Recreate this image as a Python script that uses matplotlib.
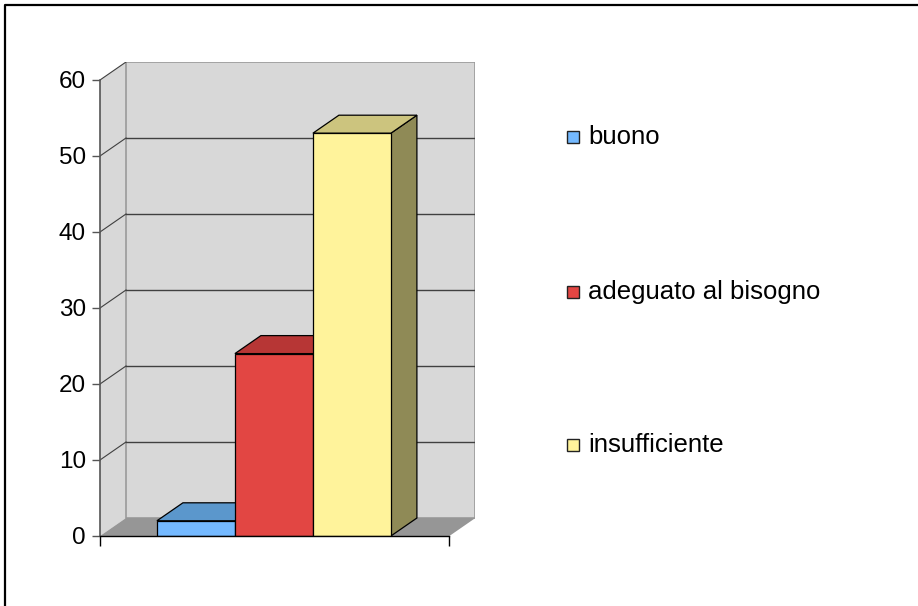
import matplotlib.pyplot as plt
from matplotlib.patches import Polygon, Rectangle
from matplotlib.lines import Line2D

plt.rcParams['font.family'] = ['Liberation Sans', 'DejaVu Sans']

categories = ['buono', 'adeguato al bisogno', 'insufficiente']
values = [2, 24, 53]
front_colors = ['#74b9ff', '#e24643', '#fff39b']
top_colors = ['#5b97cc', '#b73635', '#ccc47e']
side_colors = ['#4a78a3', '#8f2b2a', '#8f8a56']
yticks = [0, 10, 20, 30, 40, 50, 60]

W, H = 918, 606
fig = plt.figure(figsize=(W / 100, H / 100), dpi=100)
fig.patch.set_facecolor('white')

# axes area in pixels: left 100, right 475, top 62, bottom 536
ax = fig.add_axes([100 / W, (H - 536) / H, 375.4 / W, 474 / H])
ax.set_facecolor('none')

dx = 26 / 78          # depth in category units
dy = 18 / 7.6         # depth in value units
xl, xr = -1.23, 3.25
ymax = 60

ax.set_xlim(xl, xr + dx)
ax.set_ylim(0, ymax + dy)

# walls and floor
wall = '#d8d8d8'
ax.add_patch(Polygon([(xl, 0), (xl + dx, dy), (xl + dx, ymax + dy), (xl, ymax)],
                     closed=True, facecolor=wall, edgecolor='none', zorder=0))
ax.add_patch(Rectangle((xl + dx, dy), xr - xl, ymax, facecolor=wall,
                       edgecolor='#9a9a9a', lw=1.2, zorder=0))
ax.add_patch(Polygon([(xl, 0), (xr, 0), (xr + dx, dy), (xl + dx, dy)],
                     closed=True, facecolor='#969696', edgecolor='none', zorder=0.5))
for v in yticks[1:]:
    if v < ymax:
        ax.plot([xl + dx, xr + dx], [v + dy, v + dy], color='#404040', lw=1.0, zorder=0.6)
    ax.plot([xl, xl + dx], [v, v + dy], color='#404040', lw=0.8, zorder=0.6)

# bars with pseudo depth
for i, (v, fc, tc, sc) in enumerate(zip(values, front_colors, top_colors, side_colors)):
    x0, x1 = i - 0.5, i + 0.5
    ax.add_patch(Polygon([(x1, 0), (x1 + dx, dy), (x1 + dx, v + dy), (x1, v)],
                         closed=True, facecolor=sc, edgecolor='black', lw=0.9, zorder=2 + i))
    ax.add_patch(Polygon([(x0, v), (x1, v), (x1 + dx, v + dy), (x0 + dx, v + dy)],
                         closed=True, facecolor=tc, edgecolor='black', lw=0.9, zorder=2 + i))
    ax.bar(i, v, width=1.0, color=fc, edgecolor='black', lw=0.9, zorder=2.5 + i)

for s in ['top', 'right']:
    ax.spines[s].set_visible(False)
ax.spines['left'].set_bounds(0, ymax)
ax.spines['left'].set_color('#555555')
ax.spines['left'].set_linewidth(1.2)
ax.spines['bottom'].set_bounds(xl, xr)
ax.spines['bottom'].set_color('black')
ax.spines['bottom'].set_linewidth(1.0)
ax.spines['bottom'].set_zorder(10)

ax.set_yticks(yticks)
ax.set_yticklabels([str(t) for t in yticks], fontsize=17.5)
ax.tick_params(axis='y', length=6, width=1, color='#555555', pad=4)
ax.set_xticks([xl, xr])
ax.set_xticklabels([])
ax.tick_params(axis='x', length=7, width=1, color='black')

# legend
leg_y = [137, 292, 445]
for name, fc, y in zip(categories, front_colors, leg_y):
    fig.patches.append(Rectangle((567 / W, (H - y - 6) / H), 12 / W, 12 / H,
                                 transform=fig.transFigure, facecolor=fc,
                                 edgecolor='#222222', lw=1.0))
    fig.text(588 / W, (H - y) / H, name, fontsize=18.5, va='center', ha='left')

# outer border (left and top edges)
fig.lines.append(Line2D([5 / W, 5 / W, 1], [0, 1 - 5 / H, 1 - 5 / H],
                        transform=fig.transFigure, color='black', lw=1.6))

fig.savefig('out.png', dpi=100)
